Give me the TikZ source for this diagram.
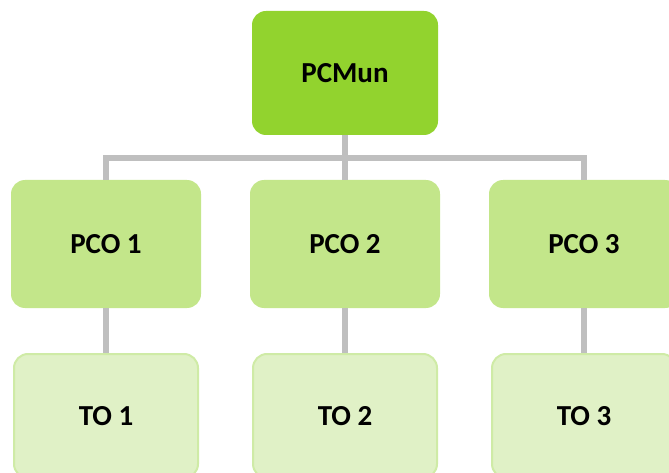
\documentclass[tikz,border=0pt]{standalone}
\usepackage{fontspec}
\setmainfont{Carlito}
\usepackage{xcolor}

\definecolor{topgreen}{HTML}{92D32E}
\definecolor{midgreen}{HTML}{C3E68A}
\definecolor{lowgreen}{HTML}{E0F1C6}
\definecolor{lowedge}{HTML}{CFEBA6}
\definecolor{linkgray}{HTML}{BFBFBF}

\begin{document}
\begin{tikzpicture}[x=1pt,y=-1pt,
    box/.style={rectangle, rounded corners=14pt, inner sep=0pt,
        font=\fontsize{29}{34}\selectfont\bfseries},
    link/.style={draw=linkgray, line width=6pt}]
    \useasboundingbox (0,0) rectangle (669,473);

    % boxes
    \node[box, fill=topgreen, minimum width=186pt, minimum height=124pt] (pcmun) at (345,73) {PCMun};
    \node[box, fill=midgreen, minimum width=190pt, minimum height=128pt] (pco1) at (106,244) {PCO 1};
    \node[box, fill=midgreen, minimum width=190pt, minimum height=128pt] (pco2) at (345,244) {PCO 2};
    \node[box, fill=midgreen, minimum width=190pt, minimum height=128pt] (pco3) at (584,244) {PCO 3};
    \node[box, fill=lowgreen, draw=lowedge, line width=2pt, minimum width=184pt, minimum height=124pt] (to1) at (106,416) {TO 1};
    \node[box, fill=lowgreen, draw=lowedge, line width=2pt, minimum width=184pt, minimum height=124pt] (to2) at (345,416) {TO 2};
    \node[box, fill=lowgreen, draw=lowedge, line width=2pt, minimum width=184pt, minimum height=124pt] (to3) at (584,416) {TO 3};

    % links
    \coordinate (bar) at (345,158);
    \draw[link] (pcmun.south) -- (bar);
    \draw[link] (bar) -- (pco2.north);
    \draw[link] (pco1.north) |- (bar) -| (pco3.north);
    \draw[link] (pco1.south) -- (to1.north);
    \draw[link] (pco2.south) -- (to2.north);
    \draw[link] (pco3.south) -- (to3.north);
\end{tikzpicture}
\end{document}
